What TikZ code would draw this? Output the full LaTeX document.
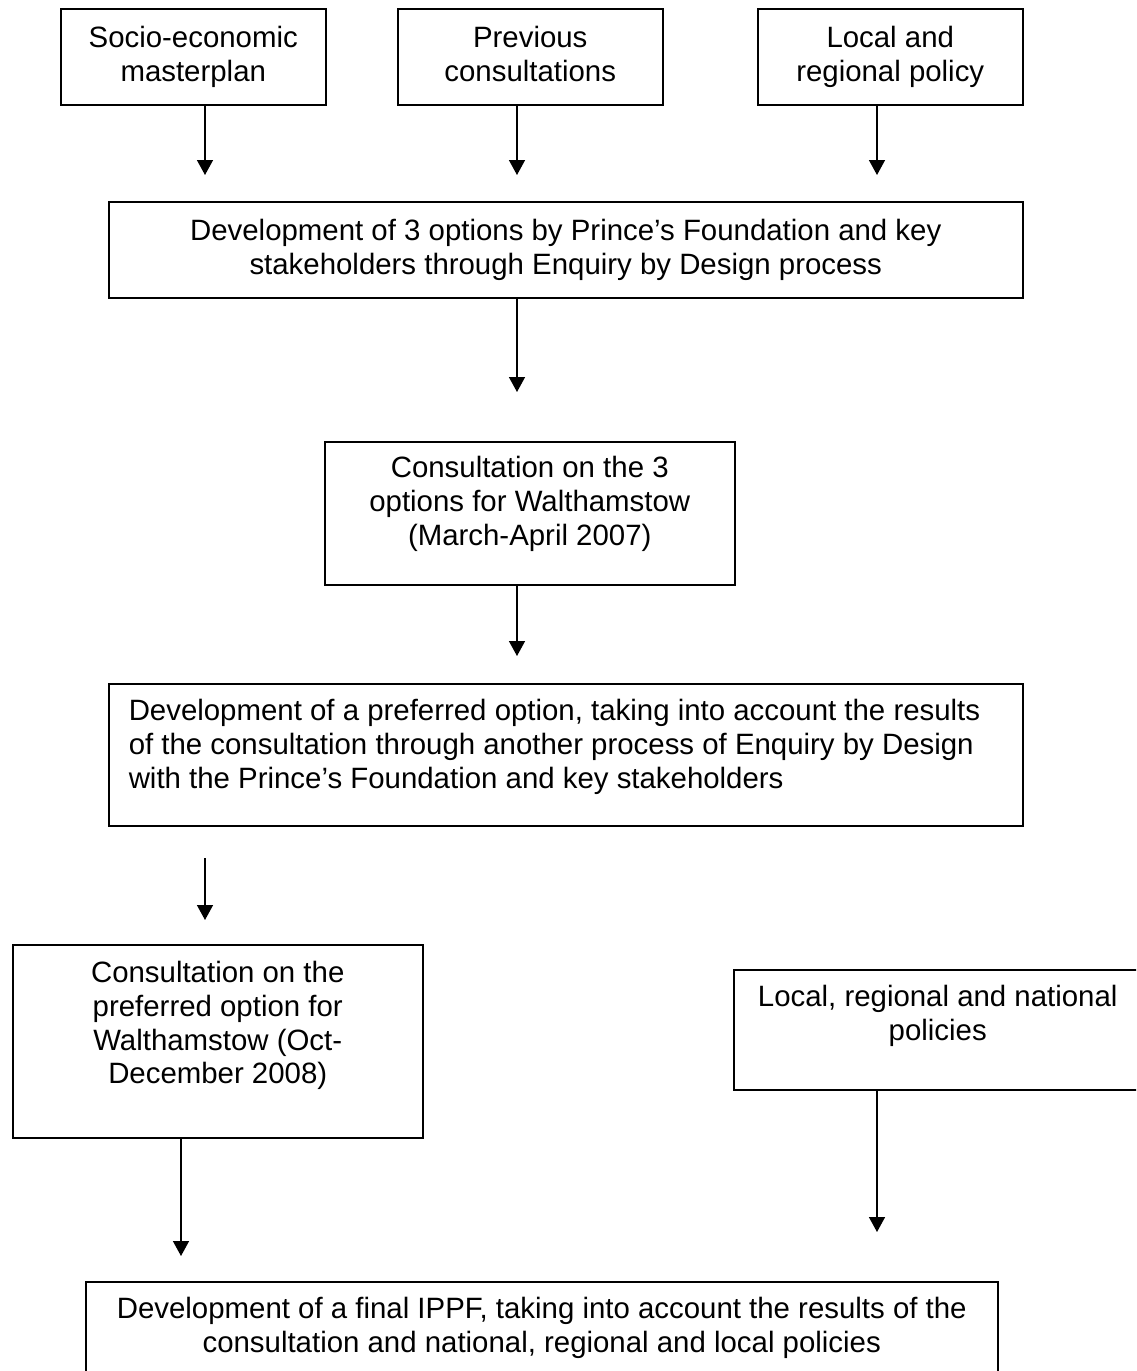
\documentclass[tikz,border=0pt]{standalone}
\usepackage{fontspec}
\setmainfont{Liberation Sans}
\usetikzlibrary{arrows.meta}
\newcommand{\bxc}[5]{\parbox[c][#2pt][t]{#1pt}{#4\vspace*{#3pt}#5\par}}
\begin{document}
\begin{tikzpicture}[x=1pt,y=-1pt,
  box/.style={draw, line width=1.5pt, inner sep=0pt, anchor=north west,
              font=\fontsize{29.4}{33.7}\selectfont},
  arr/.style={line width=1.5pt, -{Triangle[length=15pt,width=16pt]}}]
\useasboundingbox (0,0) rectangle (1136,1371);
\clip (0,0) rectangle (1136,1371);
\fill[white] (0,0) rectangle (1136,1371);

% top row
\node[box] (b1) at (60,8)  {\bxc{265}{96}{17.6}{\centering}{Socio-economic\\masterplan}};
\node[box] (b2) at (397,8) {\bxc{265}{96}{17.6}{\centering}{Previous\\consultations}};
\node[box] (b3) at (757,8) {\bxc{265}{96}{17.6}{\centering}{Local and\\regional policy}};

\node[box] (b4) at (108,201) {\bxc{914}{96}{17.6}{\centering}{Development of 3 options by Prince’s Foundation and key\\stakeholders through Enquiry by Design process}};

\node[box] (b5) at (324,441) {\bxc{410}{143}{14.6}{\centering}{Consultation on the 3\\options for Walthamstow\\(March-April 2007)}};

\node[box] (b6) at (108,683) {\bxc{914}{142}{15.6}{\raggedright\leftskip=20pt}{Development of a preferred option, taking into account the results\\of the consultation through another process of Enquiry by Design\\with the Prince’s Foundation and key stakeholders}};

\node[box] (b7) at (12,944) {\bxc{410}{193}{16.6}{\centering}{Consultation on the\\preferred option for\\Walthamstow (Oct-\\December 2008)}};

\node[box] (b8) at (733,969) {\bxc{408}{120}{15.6}{\centering}{Local, regional and national\\policies}};

\node[box] (b9) at (85,1281) {\bxc{912}{130}{15.6}{\centering}{Development of a final IPPF, taking into account the results of the\\consultation and national, regional and local policies}};

% arrow ends
\coordinate (t1) at (205,175);
\coordinate (t2) at (517,175);
\coordinate (t3) at (877,175);
\coordinate (t4) at (517,392);
\coordinate (t5) at (517,656);
\coordinate (s6) at (205,858);
\coordinate (t6) at (205,920);
\coordinate (t7) at (181,1256);
\coordinate (t8) at (877,1232);

\draw[arr] (b1.south -| t1) -- (t1);
\draw[arr] (b2.south -| t2) -- (t2);
\draw[arr] (b3.south -| t3) -- (t3);
\draw[arr] (b4.south -| t4) -- (t4);
\draw[arr] (b5.south -| t5) -- (t5);
\draw[arr] (s6) -- (t6);
\draw[arr] (b7.south -| t7) -- (t7);
\draw[arr] (b8.south -| t8) -- (t8);
\end{tikzpicture}
\end{document}
